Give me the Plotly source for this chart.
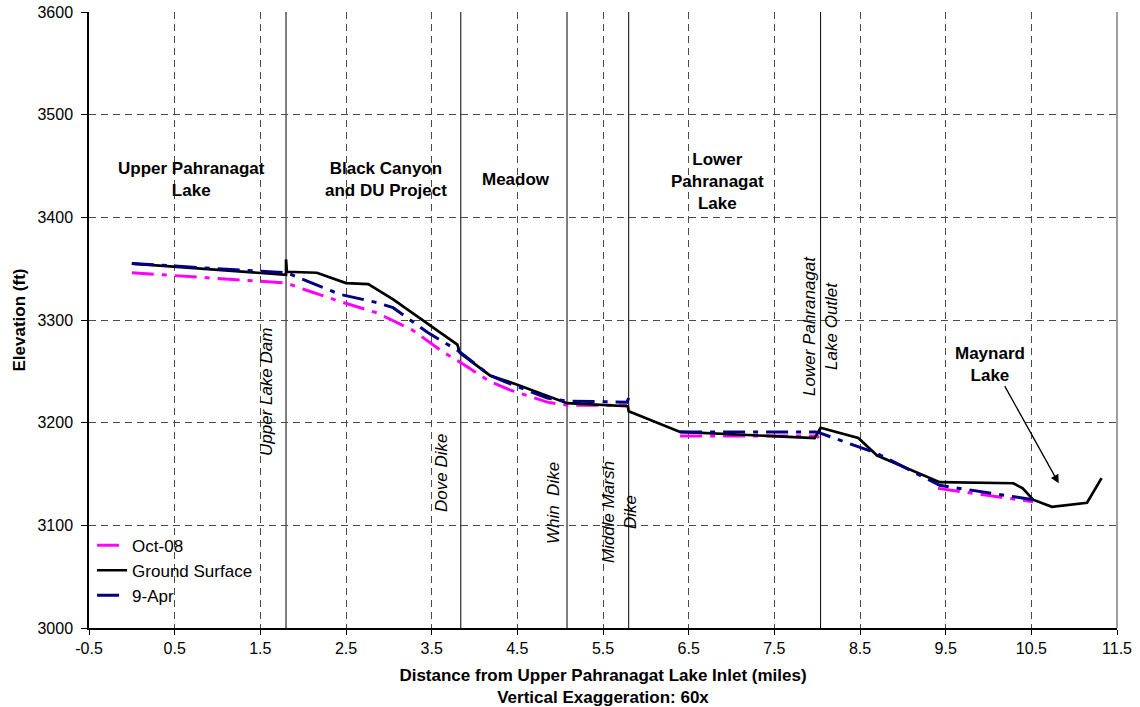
import plotly.graph_objects as go

# ---- data ----
ground_x = [0.0, 1.80, 1.80, 1.81, 2.16, 2.50, 2.76, 3.05, 3.80, 3.83, 4.18, 4.50, 5.08,
            5.79, 5.80, 6.40, 7.97, 8.04, 8.48, 8.70, 9.43, 10.29, 10.40, 10.52, 10.74,
            11.15, 11.32]
ground_y = [3355, 3344, 3359, 3347, 3346, 3336, 3335, 3320, 3276, 3268, 3246, 3237, 3219,
            3216, 3211, 3191, 3185, 3195, 3185, 3168, 3142, 3141, 3136, 3125, 3118,
            3122, 3146]

oct_x = [0.0, 1.80, 2.04, 2.43, 2.86, 3.28, 3.63, 3.83, 4.18, 4.41, 4.85, 5.08, 5.78,
         None, 6.40, 8.00, 8.02, None, 9.41, 10.52]
oct_y = [3346, 3336, 3329, 3318, 3307, 3290, 3269, 3259, 3240, 3232, 3220, 3217, 3217,
         None, 3187, 3187, 3185, None, 3136, 3123]

apr_x = [0.0, 1.81, 2.04, 2.43, 2.86, 3.05, 3.45, 3.63, 3.81, 4.18, 4.38, 4.85, 5.08,
         5.78, 5.80, None, 6.40, 7.98, 8.03, 8.42, 8.70, 9.43, 10.52]
apr_y = [3355, 3346, 3338, 3325, 3317, 3312, 3288, 3279, 3270, 3246, 3239, 3224, 3221,
         3220, 3224, None, 3191, 3191, 3190, 3178, 3170, 3139, 3125]

structure_x = [1.80, 3.84, 5.08, 5.80, 8.04]
structure_labels = ["Upper Lake Dam", "Dove Dike", "Whin  Dike", "Middle Marsh<br>Dike",
                    "Lower Pahranagat<br>Lake Outlet"]
structure_label_x = [1.58, 3.62, 4.92, 5.70, 8.03]
structure_label_y = [3230, 3151, 3122, 3113, 3294]

region_labels = ["Upper Pahranagat<br>Lake", "Black Canyon<br>and DU Project", "Meadow",
                 "Lower<br>Pahranagat<br>Lake", "Maynard<br>Lake"]
region_x = [0.70, 2.97, 4.48, 6.84, 10.02]
region_y = [3437, 3437, 3437, 3435, 3257]

arrow_tail = (10.18, 3237)
arrow_head = (10.82, 3141)

x_ticks = [-0.5, 0.5, 1.5, 2.5, 3.5, 4.5, 5.5, 6.5, 7.5, 8.5, 9.5, 10.5, 11.5]
y_ticks = [3000, 3100, 3200, 3300, 3400, 3500, 3600]

FONT = "Liberation Sans, Arial, sans-serif"
DASH = "22px,8px,5px,8px"

fig = go.Figure()
fig.add_trace(go.Scatter(x=oct_x, y=oct_y, mode="lines", name="Oct-08",
                         line=dict(color="#FF00FF", width=3, dash=DASH)))
fig.add_trace(go.Scatter(x=ground_x, y=ground_y, mode="lines", name="Ground Surface",
                         line=dict(color="black", width=2.7)))
fig.add_trace(go.Scatter(x=apr_x, y=apr_y, mode="lines", name="9-Apr",
                         line=dict(color="#000080", width=3, dash=DASH)))

for sx in structure_x:
    fig.add_shape(type="line", xref="x", yref="paper", x0=sx, x1=sx, y0=0, y1=1,
                  line=dict(color="black", width=1), layer="below")

# right border
fig.add_shape(type="line", xref="paper", yref="paper", x0=1, x1=1, y0=0, y1=1,
              line=dict(color="#808080", width=1.5))

for t, x, y in zip(structure_labels, structure_label_x, structure_label_y):
    fig.add_annotation(x=x, y=y, xref="x", yref="y", text="<i>" + t + "</i>",
                       textangle=-90, showarrow=False,
                       font=dict(family=FONT, size=17, color="black"))

for t, x, y in zip(region_labels, region_x, region_y):
    fig.add_annotation(x=x, y=y, xref="x", yref="y", text="<b>" + t + "</b>",
                       showarrow=False, align="center",
                       font=dict(family=FONT, size=17, color="black"))

fig.add_annotation(x=arrow_head[0], y=arrow_head[1], ax=arrow_tail[0], ay=arrow_tail[1],
                   xref="x", yref="y", axref="x", ayref="y", text="", showarrow=True,
                   arrowhead=2, arrowsize=1.3, arrowwidth=1.3, arrowcolor="black")

fig.update_layout(
    width=1140, height=707,
    margin=dict(l=89, r=23, t=12, b=79),
    paper_bgcolor="white", plot_bgcolor="white",
    font=dict(family=FONT, size=16, color="black"),
    showlegend=True,
    legend=dict(x=0.003, y=0.163, xanchor="left", yanchor="top",
                bgcolor="rgba(0,0,0,0)", font=dict(family=FONT, size=17),
                tracegroupgap=0),
)
fig.update_xaxes(
    range=[-0.5, 11.5], tickvals=x_ticks, ticktext=[f"{v:g}" for v in x_ticks],
    showgrid=True, gridcolor="#4a4a4a", griddash="7px,5px", gridwidth=1,
    showline=True, linecolor="black", linewidth=1.5,
    ticks="outside", ticklen=5, tickcolor="black",
    tickfont=dict(family=FONT, size=16),
    title=dict(text="<b>Distance from Upper Pahranagat Lake Inlet (miles)<br>Vertical Exaggeration: 60x</b>",
               font=dict(family=FONT, size=17), standoff=13),
    zeroline=False, automargin=False,
)
fig.update_yaxes(
    range=[3000, 3600], tickvals=y_ticks,
    showgrid=True, gridcolor="#4a4a4a", griddash="7px,5px", gridwidth=1,
    showline=True, linecolor="black", linewidth=1.5,
    ticks="outside", ticklen=6, tickcolor="black", ticklabelstandoff=5,
    tickfont=dict(family=FONT, size=16),
    title=dict(text="<b>Elevation (ft)</b>", font=dict(family=FONT, size=17), standoff=8),
    zeroline=False, automargin=False,
)

fig.write_html("out.html", config={"displayModeBar": False},
               post_script="document.body.style.margin='0';document.body.style.overflow='hidden';")
